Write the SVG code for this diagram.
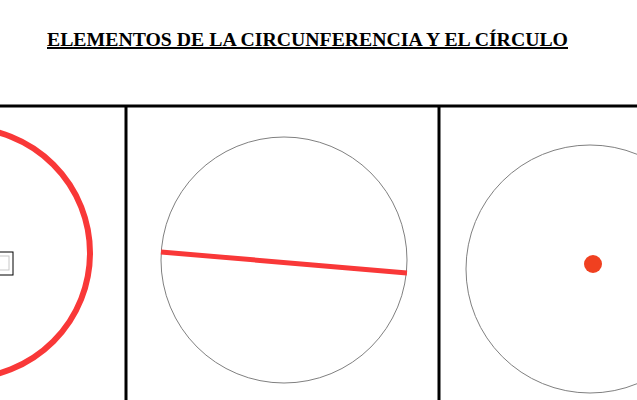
<svg xmlns="http://www.w3.org/2000/svg" width="637" height="400" viewBox="0 0 637 400">
<style>
.title{font-family:"Liberation Serif","Times New Roman",serif;font-weight:bold;font-size:19.7px;text-decoration:underline;fill:#000}
.frame{stroke:#000;stroke-width:3;fill:none}
.thin{stroke:#808080;stroke-width:1;fill:none}
.red{stroke:#f93838;fill:none}
</style>
<rect width="637" height="400" fill="#fff"/>
<text class="title" x="307.5" y="46" text-anchor="middle" textLength="521" lengthAdjust="spacingAndGlyphs">ELEMENTOS DE LA CIRCUNFERENCIA Y EL CÍRCULO</text>
<g id="frame">
<line class="frame" x1="0" y1="106" x2="637" y2="106"/>
<line class="frame" x1="126" y1="106" x2="126" y2="400"/>
<line class="frame" x1="439" y1="106" x2="439" y2="400"/>
</g>
<g id="circunferencia">
<circle class="red" cx="-35" cy="253" r="125" stroke-width="6"/>
<rect x="-1" y="252" width="14" height="23" fill="#fff" stroke="#000" stroke-width="1"/>
<rect x="-1" y="256" width="10" height="14" fill="none" stroke="#c8c8c8" stroke-width="1"/>
</g>
<g id="diametro">
<circle class="thin" cx="284" cy="260" r="123"/>
<line class="red" x1="161" y1="252" x2="407" y2="273" stroke-width="5"/>
</g>
<g id="centro">
<circle class="thin" cx="590" cy="269" r="124"/>
<circle cx="593" cy="264" r="9" fill="#f04020"/>
</g>
</svg>
